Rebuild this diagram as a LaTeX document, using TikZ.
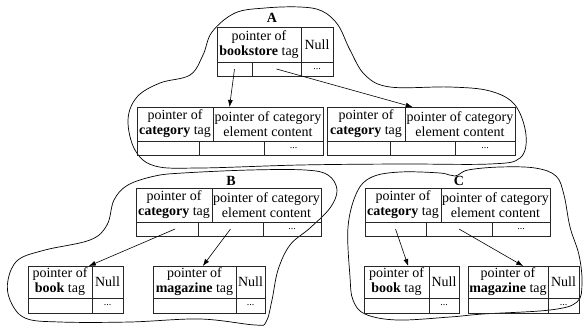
\documentclass[tikz,border=0pt]{standalone}
\usepackage{fontspec}
\setmainfont{Liberation Serif}
\usetikzlibrary{arrows.meta,calc}
\tikzset{
  cellbox/.style={draw=black!85,line width=0.6pt,inner sep=0pt,outer sep=0pt,align=center,
    font=\rmfamily\fontsize{14}{15}\selectfont},
  dotsbox/.style={cellbox,font=\rmfamily\fontsize{10}{10}\selectfont},
  blob/.style={draw=black,line width=0.7pt},
  ptr/.style={draw=black,line width=0.6pt,-{Latex[length=7pt,width=5pt]}},
  tagname/.style={font=\rmfamily\fontsize{14}{14}\selectfont\bfseries,inner sep=0pt}
}
\newcommand\mycell[7][cellbox]{%
  \pgfmathsetmacro\rcW{#5-#3}\pgfmathsetmacro\rcH{#6-#4}%
  \pgfmathsetmacro\rcX{(#3+#5)/2}\pgfmathsetmacro\rcY{(#4+#6)/2}%
  \node[#1,minimum width=\rcW pt,minimum height=\rcH pt] (#2) at (\rcX,\rcY) {#7};}
% record with two top cells and three bottom cells
\newcommand\catrec[8]{% name, x0, x1 (top divider), x2, x3 (bottom dividers), x4 (right), ytop, ymid
  \pgfmathsetmacro\rcYb{#8+14}%
  \mycell{#1-t1}{#2}{#7}{#3}{#8}{pointer of\\\textbf{category} tag}
  \mycell{#1-t2}{#3}{#7}{#6}{#8}{pointer of category\\element content}
  \mycell{#1-b1}{#2}{#8}{#4}{\rcYb}{}
  \mycell{#1-b2}{#4}{#8}{#5}{\rcYb}{}
  \mycell[dotsbox]{#1-b3}{#5}{#8}{#6}{\rcYb}{...}}
\newcommand\leafrec[5]{% name, x0, x1, x2, text
  \mycell{#1-t1}{#2}{266}{#3}{298}{#5}
  \mycell{#1-t2}{#3}{266}{#4}{298}{Null}
  \mycell{#1-b1}{#2}{298}{#3}{313}{}
  \mycell[dotsbox]{#1-b2}{#3}{298}{#4}{313}{...}}
\begin{document}
\begin{tikzpicture}[x=1pt,y=-1pt]
\useasboundingbox (0,0) rectangle (584,327);
% blobs
\draw[blob] plot[smooth cycle,tension=0.6] coordinates {
 (300,7) (322,11) (338,25) (350,50) (365,75) (390,87) (450,87) (490,91) (515,105) (526,135)
 (520,158) (490,164) (400,164) (300,165) (200,168) (155,166) (135,150) (128,120) (137,97)
 (160,83) (190,75) (203,55) (212,32) (235,13) (265,8)};
\draw[blob] plot[smooth cycle,tension=0.6] coordinates {
 (183,173) (250,170) (305,170) (328,175) (337,190) (330,208) (310,228) (290,245) (278,270)
 (272,300) (266,322) (255,325) (200,319) (130,322) (60,322) (25,318) (10,300) (8,280)
 (18,260) (45,250) (90,240) (107,225) (114,200) (128,185) (155,176)};
\draw[blob] plot[smooth cycle,tension=0.6] coordinates {
 (357,192) (372,177) (400,172) (440,173) (455,176) (468,170) (500,167) (535,168) (556,176)
 (564,195) (570,227) (579,255) (582,283) (577,302) (550,310) (483,314) (450,317) (397,320)
 (365,314) (353,300) (350,277) (348,227)};
% A
\node[tagname] (labA) at (272,18) {A};
\mycell{A-t1}{217}{27}{301}{62}{pointer of\\\textbf{bookstore} tag}
\mycell{A-t2}{301}{27}{333}{62}{Null}
\mycell{A-b1}{217}{62}{252}{76}{}
\mycell{A-b2}{252}{62}{301}{76}{}
\mycell[dotsbox]{A-b3}{301}{62}{333}{76}{...}
% level 2
\catrec{L}{137}{213}{199}{264}{323}{107}{141}
\catrec{R}{327}{405}{390}{455}{515}{107}{141}
\node[tagname] (labB) at (231,181) {B};
\catrec{B}{136}{212}{198}{263}{321}{188}{222}
\node[tagname] (labC) at (459,181) {C};
\catrec{C}{365}{441}{426}{492}{550}{188}{222}
% level 3
\leafrec{Bk}{28}{92}{123}{pointer of\\\textbf{book} tag}
\leafrec{Bm}{153}{236}{265}{pointer of\\\textbf{magazine} tag}
\leafrec{Ck}{364}{429}{459}{pointer of\\\textbf{book} tag}
\leafrec{Cm}{468}{548}{579}{pointer of\\\textbf{magazine} tag}
% pointers
\draw[ptr] (A-b1.center) -- ($(L-t2.north west)!0.15!(L-t2.north east)$);
\draw[ptr] (A-b2.center) -- ($(R-t2.north west)!0.07!(R-t2.north east)$);
\draw[ptr] ($(B-b1.west)!0.63!(B-b1.east)$) -- ($(Bk-t1.north west)!0.95!(Bk-t1.north east)$);
\draw[ptr] (B-b2.center) -- ($(Bm-t1.north west)!0.6!(Bm-t1.north east)$);
\draw[ptr] (C-b1.center) -- ($(Ck-t1.north west)!0.68!(Ck-t1.north east)$);
\draw[ptr] (C-b2.center) -- ($(Cm-t1.north west)!0.69!(Cm-t1.north east)$);
\end{tikzpicture}
\end{document}
